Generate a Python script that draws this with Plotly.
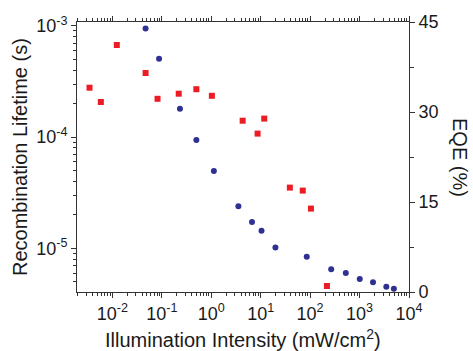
import plotly.graph_objects as go

# Recombination lifetime (s) vs illumination intensity (mW/cm^2)
life_x = [0.047, 0.088, 0.233, 0.50, 1.13, 3.54, 6.68, 10.4, 19.9, 85.4,
          267, 527, 1009, 1870, 3475, 4946]
life_y = [9.44e-4, 5.05e-4, 1.80e-4, 9.4e-5, 4.97e-5, 2.40e-5, 1.73e-5, 1.44e-5,
          1.02e-5, 8.43e-6, 6.49e-6, 6.02e-6, 5.32e-6, 4.96e-6, 4.54e-6, 4.35e-6]

# EQE (%) vs illumination intensity
eqe_x = [0.00345, 0.00585, 0.0123, 0.047, 0.082, 0.22, 0.50, 1.03,
         4.32, 8.66, 11.8, 38.9, 71, 104, 219]
eqe_y = [34.05, 31.67, 41.17, 36.5, 32.2, 33.05, 33.8, 32.7,
         28.55, 26.4, 28.9, 17.4, 16.9, 13.9, 1.0]

x_tickvals = [0.01, 0.1, 1, 10, 100, 1000, 10000]
x_ticktext = ["10<sup>-2</sup>", "10<sup>-1</sup>", "10<sup>0</sup>", "10<sup>1</sup>",
              "10<sup>2</sup>", "10<sup>3</sup>", "10<sup>4</sup>"]
y_tickvals = [1e-5, 1e-4, 1e-3]
y_ticktext = ["10<sup>-5</sup>", "10<sup>-4</sup>", "10<sup>-3</sup>"]
y2_tickvals = [0, 15, 30, 45]

FONT = "Liberation Sans, Arial, sans-serif"
TXT = "#1a1a1a"
AX = "#333333"

fig = go.Figure()
fig.add_trace(go.Scatter(x=life_x, y=life_y, mode="markers", yaxis="y",
                         marker=dict(symbol="circle", size=6, color="#2e3192"),
                         showlegend=False))
fig.add_trace(go.Scatter(x=eqe_x, y=eqe_y, mode="markers", yaxis="y2",
                         marker=dict(symbol="square", size=6, color="#ed1c24"),
                         showlegend=False))

fig.update_layout(
    width=473, height=351,
    margin=dict(l=77, r=64, t=22, b=59),
    paper_bgcolor="white", plot_bgcolor="white",
    font=dict(family=FONT, color=TXT, size=18),
    xaxis=dict(type="log", range=[-2.715, 4], showgrid=False, zeroline=False,
               showline=True, linecolor=AX, linewidth=1, mirror="ticks",
               ticks="outside", ticklen=5, tickcolor=AX,
               tickmode="array", tickvals=x_tickvals, ticktext=x_ticktext,
               tickfont=dict(size=18),
               minor=dict(ticks="outside", ticklen=3, dtick="D1", tickcolor=AX, showgrid=False)),
    yaxis=dict(type="log", range=[-5.391, -2.966], showgrid=False, zeroline=False,
               showline=True, linecolor=AX, linewidth=1,
               ticks="outside", ticklen=5, tickcolor=AX,
               tickmode="array", tickvals=y_tickvals, ticktext=y_ticktext,
               tickfont=dict(size=18),
               minor=dict(ticks="outside", ticklen=3, dtick="D1", tickcolor=AX, showgrid=False)),
    yaxis2=dict(overlaying="y", side="right", range=[0, 45], showgrid=False,
                zeroline=False, showline=True, linecolor=AX, linewidth=1,
                ticks="outside", ticklen=5, tickcolor=AX,
                tickmode="array", tickvals=y2_tickvals,
                tickfont=dict(size=18),
                minor=dict(ticks="outside", ticklen=4, tickvals=[7.5, 22.5, 37.5], tickcolor=AX)),
    annotations=[
        dict(text="Illumination Intensity (mW/cm<sup>2</sup>)", xref="paper", yref="paper",
             x=0.5, y=0, yshift=-46, xanchor="center", yanchor="middle",
             showarrow=False, font=dict(size=20, color=TXT)),
        dict(text="Recombination Lifetime (s)", xref="paper", yref="paper",
             x=0, y=0.5, xshift=-57, xanchor="center", yanchor="middle", textangle=-90,
             showarrow=False, font=dict(size=20, color=TXT)),
        dict(text="EQE (%)", xref="paper", yref="paper",
             x=1, y=0.5, xshift=51, xanchor="center", yanchor="middle", textangle=90,
             showarrow=False, font=dict(size=20, color=TXT)),
    ],
)

fig.write_html("out.html")
